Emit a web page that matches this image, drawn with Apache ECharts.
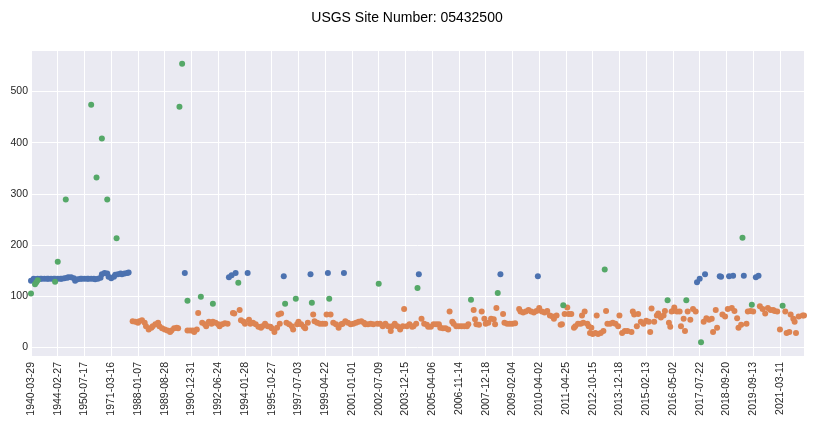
<!DOCTYPE html>
<html lang="en">
<head>
    <meta charset="UTF-8">
    <title>USGS Site Number: 05432500</title>
    <style>
      * {
          padding: 0;
          margin: 0;
      }
    </style>
</head>
<body>
    <div id="main" style="width: 814px;height:425px;"></div>
    <script src="https://cdn.jsdelivr.net/npm/echarts@6/dist/echarts.min.js"></script>
    <script>
        // measurement dates shown under the axis, one every 20 rows
        var tickLabels = ['1940-03-29', '1944-02-27', '1950-07-17', '1971-03-16', '1988-01-07',
            '1989-08-28', '1990-12-31', '1992-06-24', '1994-01-28', '1995-10-27', '1997-07-03',
            '1999-04-22', '2001-01-01', '2002-07-09', '2003-12-15', '2005-04-06', '2006-11-14',
            '2007-12-18', '2009-02-04', '2010-04-02', '2011-04-25', '2012-10-15', '2013-12-18',
            '2015-02-13', '2016-05-02', '2017-07-22', '2018-09-20', '2019-09-13', '2021-03-11'];
        var tickStep = 20;
        var lastRow = 578;

        // [row, value]
        var blue = [[0,130],[2,134],[3,133],[5,134],[7,134],[8,134],[10,134],[12,134],[13,134],[15,134],
            [17,134],[18,134],[20,134],[22,134],[23,134],[25,135],[27,136],[28,137],[30,137],[32,135],
            [33,130],[35,133],[37,134],[38,134],[40,134],[42,134],[43,134],[45,134],[47,134],[48,133],
            [50,134],[52,136],[53,143],[55,145],[57,144],[58,138],[60,135],[62,138],[63,142],[65,143],
            [67,144],[68,143],[70,144],[72,145],[73,146],
            [115,145],[148,137],[150,141],[153,145],[162,145],[189,139],[209,143],[222,145],[234,145],
            [290,143],[351,143],[379,139],[498,127],[500,134],[504,143],[515,139],[516,138],[522,139],
            [525,140],[533,140],[542,137],[544,140]];

        var orange = [[76,51],[78,50],[80,48],[81,51],[83,53],[85,48],[86,41],[88,35],[90,38],[91,41],
            [93,45],[95,48],[96,41],[98,37],[100,35],[102,33],[104,30],[105,33],[107,37],[109,38],[110,37],
            [117,33],[119,33],[121,33],[122,30],[124,35],[125,67],[128,48],[130,45],[131,41],[133,50],
            [135,46],[136,50],[138,48],[140,45],[141,41],[143,45],[145,47],[147,46],[151,67],[152,66],
            [156,73],[157,53],[159,50],[160,46],[163,54],[164,46],[166,48],[168,45],[170,40],[172,38],
            [173,41],[175,46],[177,41],[179,40],[180,37],[182,30],[184,38],[185,64],[186,46],[187,66],
            [191,48],[193,45],[195,41],[196,35],[199,45],[200,50],[202,45],[204,40],[205,37],[207,48],
            [211,64],[212,51],[214,48],[216,46],[218,46],[220,46],[221,64],[224,64],[226,48],[228,45],
            [230,38],[232,45],[233,46],[235,51],[237,48],[239,45],[241,46],[243,48],[245,50],[247,51],
            [249,48],[250,45],[252,45],[254,46],[256,45],[259,46],[261,46],[263,41],[265,46],[267,41],
            [269,32],[270,41],[272,46],[274,41],[276,35],[278,41],[279,75],[281,41],[283,45],[285,40],
            [286,41],[288,46],[292,56],[294,46],[296,44],[297,40],[299,40],[301,45],[303,45],[305,45],
            [306,38],[308,37],[310,37],[312,35],[313,70],[315,50],[316,46],[318,41],[320,41],[322,41],
            [324,41],[326,41],[327,45],[331,73],[332,55],[333,45],[335,44],[337,70],[339,56],[340,46],
            [342,48],[344,56],[346,55],[347,45],[348,77],[353,65],[354,48],[356,46],[358,46],[360,46],
            [362,47],[365,75],[366,70],[368,68],[370,70],[372,73],[374,70],[376,68],[378,71],[380,77],
            [382,70],[384,68],[386,71],[388,62],[390,60],[391,56],[393,62],[396,44],[397,45],[399,65],
            [401,78],[402,65],[404,65],[406,38],[407,41],[409,46],[411,46],[412,62],[413,48],[414,70],
            [416,46],[417,41],[418,28],[419,38],[420,26],[422,28],[423,62],[424,26],[426,28],[428,32],
            [430,71],[431,46],[433,46],[435,48],[437,46],[439,41],[440,62],[442,28],[444,32],[446,32],
            [449,30],[450,70],[451,64],[453,41],[454,65],[456,50],[458,46],[460,52],[462,50],[463,30],
            [464,76],[466,50],[468,62],[469,66],[471,58],[473,62],[474,71],[477,48],[478,40],[479,70],
            [480,71],[481,78],[483,70],[485,70],[486,41],[488,56],[489,32],[491,70],[493,54],[495,75],
            [497,70],[503,50],[505,57],[507,54],[509,56],[510,30],[512,73],[513,38],[517,64],[519,60],
            [521,75],[524,77],[526,71],[528,57],[529,38],[531,44],[535,46],[536,70],[538,71],[540,70],
            [545,80],[547,75],[549,66],[551,77],[553,73],[555,73],[556,71],[558,70],[560,35],[564,70],
            [565,28],[567,30],[568,64],[570,56],[571,50],[572,28],[574,60],[577,62],[578,62]];

        var green = [[0,105],[3,123],[4,127],[5,131],[18,128],[20,167],[26,289],[45,474],[49,332],
            [53,408],[57,289],[64,213],[111,470],[113,554],[117,91],[127,99],[136,85],[155,126],
            [190,85],[198,95],[210,87],[223,95],[260,124],[289,116],[329,93],[349,106],[398,82],
            [429,152],[476,92],[490,92],[501,10],[532,214],[539,83],[562,81]];

        var font = 'Liberation Sans, Arial, sans-serif';

        option = {
            animation: false,
            backgroundColor: '#fff',
            textStyle: { fontFamily: font },
            title: {
                text: 'USGS Site Number: 05432500',
                left: 'center',
                top: 6,
                textStyle: { fontFamily: font, fontSize: 14, fontWeight: 'normal', color: '#000' }
            },
            grid: {
                left: 31,
                right: 10,
                top: 50,
                bottom: 69,
                show: true,
                backgroundColor: '#EAEAF2',
                borderWidth: 0
            },
            xAxis: {
                type: 'value',
                min: 0,
                max: lastRow,
                interval: tickStep,
                axisLine: { show: false },
                axisTick: { show: false },
                splitLine: { lineStyle: { color: '#fff', width: 1 } },
                axisLabel: {
                    rotate: 90,
                    color: '#262626',
                    fontSize: 10.5,
                    margin: 6,
                    showMaxLabel: false,
                    formatter: function (v) {
                        var t = tickLabels[v / tickStep];
                        return t === undefined ? '' : t;
                    }
                }
            },
            yAxis: {
                type: 'value',
                min: -17,
                max: 581,
                splitNumber: 6,
                axisLine: { show: false },
                axisTick: { show: false },
                splitLine: { lineStyle: { color: '#fff', width: 1 } },
                axisLabel: {
                    color: '#262626',
                    fontSize: 10.5,
                    margin: 3,
                    showMinLabel: false,
                    showMaxLabel: false
                }
            },
            series: [
                { type: 'scatter', data: blue, symbolSize: 6, itemStyle: { color: '#4C72B0', opacity: 1 } },
                { type: 'scatter', data: orange, symbolSize: 6, itemStyle: { color: '#DD8452', opacity: 1 } },
                { type: 'scatter', data: green, symbolSize: 6, itemStyle: { color: '#55A868', opacity: 1 } }
            ]
        };

        var myChart = echarts.init(document.getElementById('main'));
        myChart.setOption(option);
    </script>
</body>
</html>
